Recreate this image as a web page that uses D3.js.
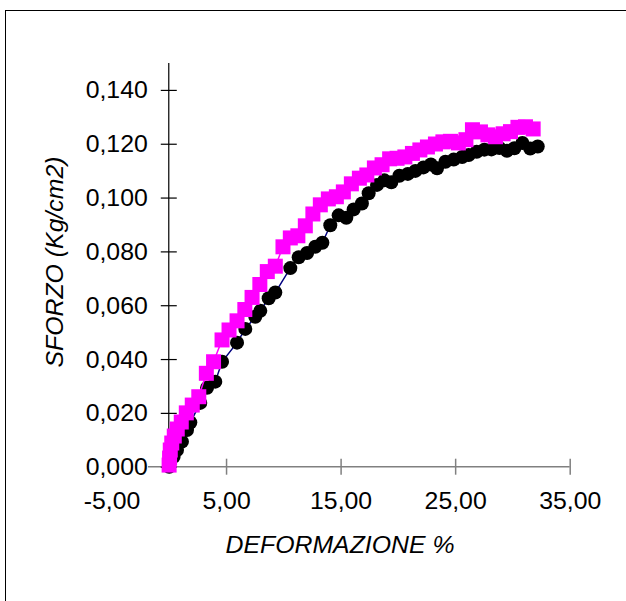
<!DOCTYPE html>
<html><head><meta charset="utf-8">
<script src="https://cdn.jsdelivr.net/npm/d3@7"></script>
<style>body{margin:0;background:#fff}svg{display:block}</style>
</head><body><svg id="c" width="626" height="601"></svg>
<script>
// ---- data ----
const xTicks = [-5, 5, 15, 25, 35];
const yTicks = [0, 0.02, 0.04, 0.06, 0.08, 0.10, 0.12, 0.14];
const xTitle = "DEFORMAZIONE %";
const yTitle = "SFORZO (Kg/cm2)";

// black circles series
const blackX = [0.04,0.42,0.72,1.15,1.59,1.88,2.75,3.34,4.06,4.65,5.96,6.68,7.55,7.99,8.72,9.30,10.61,11.34,12.07,12.79,13.41,14.10,14.83,15.50,16.14,16.86,17.45,18.18,18.82,19.43,20.13,20.87,21.53,22.23,22.88,23.42,24.15,24.87,25.61,26.18,26.88,27.55,28.17,28.86,29.52,30.17,30.87,31.55,32.21];
const blackY = [0.0000,0.0037,0.0062,0.0093,0.0136,0.0164,0.0237,0.0293,0.0316,0.0390,0.0461,0.0512,0.0557,0.0579,0.0626,0.0647,0.0738,0.0778,0.0794,0.0817,0.0832,0.0897,0.0934,0.0925,0.0956,0.0978,0.1016,0.1047,0.1064,0.1057,0.1081,0.1088,0.1099,0.1112,0.1123,0.1109,0.1133,0.1141,0.1151,0.1158,0.1170,0.1178,0.1179,0.1184,0.1174,0.1183,0.1203,0.1182,0.1190];

// magenta squares series
const pinkX = [0.03,0.07,0.13,0.26,0.48,0.74,1.09,1.53,2.05,2.62,3.28,3.91,4.65,5.26,5.96,6.64,7.27,7.95,8.60,9.30,9.97,10.61,11.27,11.92,12.58,13.23,13.93,14.63,15.24,15.94,16.64,17.29,17.95,18.62,19.28,19.93,20.61,21.27,21.92,22.58,23.28,23.93,24.59,25.28,25.94,26.51,27.21,27.86,28.52,29.19,29.83,30.48,31.14,31.81];
const pinkY = [0.0006,0.0032,0.0062,0.0088,0.0114,0.0140,0.0166,0.0200,0.0229,0.0260,0.0347,0.0390,0.0471,0.0508,0.0542,0.0584,0.0629,0.0677,0.0725,0.0745,0.0817,0.0850,0.0858,0.0895,0.0939,0.0973,0.0995,0.1003,0.1021,0.1051,0.1072,0.1084,0.1110,0.1122,0.1144,0.1146,0.1151,0.1164,0.1177,0.1188,0.1199,0.1207,0.1209,0.1203,0.1215,0.1252,0.1244,0.1233,0.1226,0.1237,0.1245,0.1261,0.1263,0.1255];

// ---- drawing ----
const svg = d3.select("#c");
const FONT = "'Liberation Sans', Arial, sans-serif";
const FS = 23, SX = 1.08;

const x = d3.scaleLinear().domain([-5, 35]).range([111.5, 569.7]);
const y = d3.scaleLinear().domain([0, 0.15]).range([466.7, 63]);
const loc = d3.formatLocale({decimal: ",", thousands: ".", grouping: [3], currency: ["", ""], minus: "-"});
const fy = loc.format(".3f"), fx = loc.format(".2f");

// outer frame
svg.append("rect").attr("x", 5.5).attr("y", 10.5).attr("width", 800).attr("height", 800)
  .attr("fill", "none").attr("stroke", "#000").attr("stroke-width", 1);

const plotLeft = 148;

// x axis
const gx = svg.append("g").attr("transform", `translate(0,${y(0)})`)
  .call(d3.axisBottom(x).tickValues(xTicks).tickFormat(fx).tickSize(0));
gx.select(".domain").remove();
gx.append("line").attr("x1", plotLeft).attr("x2", x(35)).attr("stroke", "#808080").attr("stroke-width", 1.5);
gx.selectAll(".tick").each(function(d) {
  const t = d3.select(this);
  t.select("line").remove();
  if (x(d) > plotLeft) {
    t.append("line").attr("y1", -8).attr("y2", 8).attr("stroke", "#808080").attr("stroke-width", 1.5);
  }
  t.select("text").attr("x", 0).attr("y", 42).attr("dy", 0)
    .attr("transform", `scale(${SX},1)`)
    .attr("fill", "#000").style("font-family", FONT).style("font-size", FS + "px").attr("text-anchor", "middle");
});

// y axis
const gy = svg.append("g").attr("transform", `translate(${x(0)},0)`)
  .call(d3.axisLeft(y).tickValues(yTicks).tickFormat(fy).tickSize(0));
gy.select(".domain").remove();
gy.append("line").attr("y1", y(0)).attr("y2", y(0.15)).attr("stroke", "#000").attr("stroke-width", 1.2);
gy.selectAll(".tick").each(function(d) {
  const t = d3.select(this);
  t.select("line").remove();
  t.append("line").attr("x1", -8).attr("x2", 8).attr("stroke", "#000").attr("stroke-width", 1.2);
  t.select("text").attr("x", -21 / SX).attr("dy", "0.35em")
    .attr("transform", `scale(${SX},1)`)
    .attr("fill", "#000").style("font-family", FONT).style("font-size", FS + "px").attr("text-anchor", "end");
});

// axis titles
svg.append("g").attr("transform", `translate(340,553) scale(${SX},1)`)
  .append("text").attr("text-anchor", "middle").style("font-family", FONT).style("font-size", FS + "px")
  .style("font-style", "italic").text(xTitle);
svg.append("g").attr("transform", `translate(63,262) rotate(-90) scale(${SX},1)`)
  .append("text").attr("text-anchor", "middle").style("font-family", FONT).style("font-size", FS + "px")
  .style("font-style", "italic").text(yTitle);

// black series
const blackData = blackX.map((v, i) => [v, blackY[i]]);
const pinkData = pinkX.map((v, i) => [v, pinkY[i]]);
const line = d3.line().x(d => x(d[0])).y(d => y(d[1]));
svg.append("path").datum(blackData).attr("d", line).attr("fill", "none").attr("stroke", "#000080").attr("stroke-width", 1.5);
svg.append("g").selectAll("circle").data(blackData).join("circle")
  .attr("cx", d => x(d[0])).attr("cy", d => y(d[1])).attr("r", 7).attr("fill", "#000");

// magenta series
svg.append("path").datum(pinkData).attr("d", line).attr("fill", "none").attr("stroke", "#FF00FF").attr("stroke-width", 1.5);
const S = 15;
svg.append("g").selectAll("rect").data(pinkData).join("rect")
  .attr("x", d => x(d[0]) - S / 2).attr("y", d => y(d[1]) - S / 2).attr("width", S).attr("height", S).attr("fill", "#FF00FF");
</script>
</body></html>
